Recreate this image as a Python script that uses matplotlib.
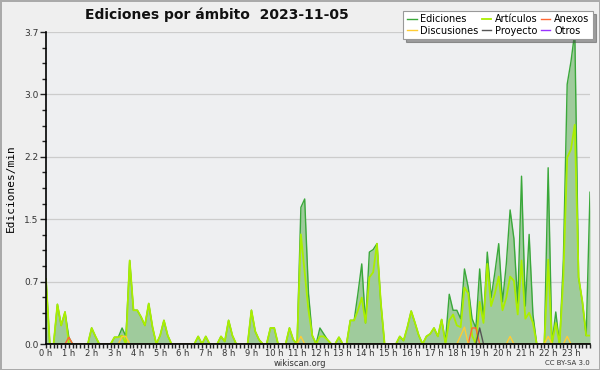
import numpy as np
import matplotlib
matplotlib.use("Agg")
import matplotlib.pyplot as plt
from matplotlib.ticker import MultipleLocator, FixedLocator, FuncFormatter

# edits per minute, one value per 10 minutes (6 per hour)
ediciones = [
    0.77, 0, 0, 0.47, 0.22, 0.38,
    0.08, 0, 0, 0, 0, 0,
    0.19, 0.09, 0, 0, 0, 0,
    0.08, 0.08, 0.19, 0.09, 0.99, 0.4,
    0.4, 0.32, 0.22, 0.48, 0.2, 0,
    0.1, 0.28, 0.1, 0, 0, 0,
    0, 0, 0, 0, 0.09, 0,
    0.09, 0, 0, 0, 0.09, 0.03,
    0.28, 0.1, 0, 0, 0, 0,
    0.4, 0.15, 0.05, 0, 0, 0.19,
    0.19, 0, 0, 0, 0.19, 0.05,
    0, 1.62, 1.72, 0.6, 0.1, 0,
    0.19, 0.12, 0.05, 0, 0, 0.08,
    0, 0, 0.28, 0.28, 0.6, 0.95,
    0.25, 1.09, 1.12, 1.19, 0.5, 0,
    0, 0, 0, 0.09, 0.04, 0.2,
    0.39, 0.25, 0.1, 0, 0.09, 0.12,
    0.19, 0.09, 0.29, 0.03, 0.59, 0.4,
    0.4, 0.3, 0.89, 0.67, 0.3, 0.19,
    0.89, 0.3, 1.09, 0.55, 0.85, 1.19,
    0.5, 0.95, 1.59, 1.25, 0.48, 1.99,
    0.45, 1.3, 0.35, 0, 0, 0,
    2.09, 0, 0.38, 0, 1.0, 3.08,
    3.35, 3.7, 0.79, 0.5, 0.1, 1.8,
]
articulos = [
    0.77, 0, 0, 0.47, 0.22, 0.38,
    0, 0, 0, 0, 0, 0,
    0.19, 0.09, 0, 0, 0, 0,
    0.08, 0.08, 0.1, 0, 0.99, 0.4,
    0.4, 0.32, 0.22, 0.48, 0.2, 0,
    0.1, 0.28, 0.1, 0, 0, 0,
    0, 0, 0, 0, 0.09, 0,
    0.09, 0, 0, 0, 0.09, 0.03,
    0.28, 0.1, 0, 0, 0, 0,
    0.4, 0.15, 0.05, 0, 0, 0.19,
    0.19, 0, 0, 0, 0.19, 0.05,
    0, 1.3, 0.85, 0.4, 0.1, 0,
    0.09, 0.09, 0.05, 0, 0, 0.08,
    0, 0, 0.28, 0.28, 0.4, 0.55,
    0.25, 0.79, 0.85, 1.19, 0.5, 0,
    0, 0, 0, 0.09, 0.04, 0.2,
    0.39, 0.25, 0.1, 0, 0.09, 0.12,
    0.19, 0.09, 0.29, 0, 0.28, 0.35,
    0.22, 0.2, 0.67, 0.6, 0.1, 0,
    0.5, 0.25, 0.95, 0.45, 0.6, 0.8,
    0.4, 0.55, 0.8, 0.75, 0.35, 0.99,
    0.3, 0.37, 0.25, 0, 0, 0,
    1.0, 0, 0.25, 0, 0.8, 2.21,
    2.31, 2.6, 0.79, 0.5, 0.1, 0.1,
]
# sparse series: {bin index: value}
discusiones = {20: 0.09, 21: 0.09, 67: 0.09, 109: 0.1, 110: 0.2, 122: 0.09, 132: 0.09, 137: 0.09}
anexos = {6: 0.08, 112: 0.19, 113: 0.19}
proyecto = {114: 0.19}
otros = {}

hour_labels = [f"{h} h" for h in range(24)]
title = "Ediciones por ámbito  2023-11-05"


def dense(sparse):
    arr = np.zeros(len(ediciones))
    for k, v in sparse.items():
        arr[k] = v
    return arr


t = np.arange(len(ediciones)) / 6.0

fig = plt.figure(figsize=(6, 3.7), dpi=100)
fig.patch.set_facecolor("#efefef")
fig.patch.set_edgecolor("#aaaaaa")
fig.patch.set_linewidth(2)

ax = fig.add_axes([46 / 600, 1 - 344 / 370, 544 / 600, 312 / 370])
ax.set_facecolor("#eeeff1")

ax.fill_between(t, ediciones, color="#9fcb9c", lw=0, zorder=1)
ax.plot(t, ediciones, color="#3aa83a", lw=1.0, zorder=2, label="Ediciones")
ax.plot(t, articulos, color="#aaee00", lw=1.3, zorder=2.1, label="Artículos")
ax.plot(t, dense(anexos), color="#ff6633", lw=1.0, zorder=2.2, label="Anexos")
ax.plot(t, dense(discusiones), color="#ffcc33", lw=1.0, zorder=2.2, label="Discusiones")
ax.plot(t, dense(proyecto), color="#555555", lw=1.0, zorder=2.2, label="Proyecto")
ax.plot(t, dense(otros), color="#9933ff", lw=1.0, zorder=1.5, label="Otros")

ymax = max(ediciones)
ax.set_xlim(0, t[-1])
ax.set_ylim(0, ymax)

yt = np.linspace(0, ymax, 6)
ax.yaxis.set_major_locator(FixedLocator(yt))
ax.yaxis.set_minor_locator(FixedLocator(np.linspace(0, ymax, 21)))
ax.yaxis.set_major_formatter(FuncFormatter(lambda v, p: f"{v:.1f}"))
ax.xaxis.set_major_locator(FixedLocator(range(24)))
ax.xaxis.set_minor_locator(MultipleLocator(1 / 6))
ax.set_xticklabels(hour_labels)

ax.grid(axis="y", which="major", color="#cccccc", lw=0.9)
ax.set_axisbelow(True)
for s in ["top", "right"]:
    ax.spines[s].set_visible(False)
for s in ["left", "bottom"]:
    ax.spines[s].set_zorder(5)
    ax.spines[s].set_linewidth(1.2)

ax.tick_params(axis="y", which="major", labelsize=6.5, colors="#222222",
               labelcolor="#333333", length=4, width=1, pad=1.5)
ax.tick_params(axis="x", which="major", labelsize=6, colors="#222222",
               labelcolor="#333333", length=3, width=1, pad=0.3)
ax.tick_params(axis="both", which="minor", length=3, width=1, colors="#222222")

ax.set_ylabel("Ediciones/min", family="DejaVu Sans Mono", fontsize=8, labelpad=6)

fig.text(85 / 600, 1 - 15 / 370, title, fontsize=10, fontweight="bold",
         va="center", ha="left", color="#111111")
fig.text(300 / 600, 1 - 364 / 370, "wikiscan.org", fontsize=6, ha="center",
         va="center", color="#333333")
fig.text(590 / 600, 1 - 363 / 370, "CC BY-SA 3.0", fontsize=5, ha="right",
         va="center", color="#333333")

h, l = ax.get_legend_handles_labels()
order = ["Ediciones", "Discusiones", "Artículos", "Proyecto", "Anexos", "Otros"]
hl = {lab: hd for hd, lab in zip(h, l)}
leg = fig.legend([hl[o] for o in order], order, ncol=3, loc="upper right",
                 bbox_to_anchor=(593 / 600, 1 - 11 / 370), fontsize=7,
                 frameon=True, fancybox=False, shadow=True, handlelength=1.0,
                 handletextpad=0.4, columnspacing=0.3, labelspacing=0.15,
                 borderpad=0.35, borderaxespad=0)
leg.get_frame().set_edgecolor("#999999")
leg.get_frame().set_linewidth(0.8)

fig.savefig("out.png", dpi=100, facecolor=fig.get_facecolor(), edgecolor=fig.get_edgecolor())
